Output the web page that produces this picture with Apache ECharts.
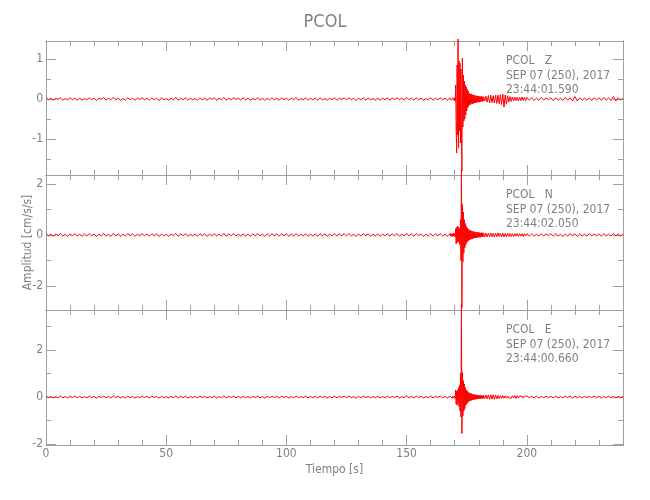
<!DOCTYPE html>
<html><head><meta charset="utf-8">
<script src="https://cdn.jsdelivr.net/npm/echarts@6/dist/echarts.min.js"></script>
<style>html,body{margin:0;padding:0;background:#fff}#c{width:650px;height:500px}</style>
</head><body><div id="c"></div><script>
// ---------- text ----------
const chartTitle = 'PCOL';
const xName = 'Tiempo [s]';
const yName = 'Amplitud [cm/s/s]';
const stationLabels = [
  ['PCOL   Z', 'SEP 07 (250), 2017', '23:44:01.590'],
  ['PCOL   N', 'SEP 07 (250), 2017', '23:44:02.050'],
  ['PCOL   E', 'SEP 07 (250), 2017', '23:44:00.660']
];
// ---------- axes values ----------
const xMin = 0, xMax = 240;
const xMajor = [0, 50, 100, 150, 200];
const xMinor = [10,20,30,40,60,70,80,90,110,120,130,140,160,170,180,190,210,220,230];
const yRange = [[-1.9, 1.45], [-2.94, 2.35], [-2.04, 3.7]];
const yMajor = [[-1, 0, 1], [-2, 0, 2], [-2, 0, 2]];
const yMinor = [[-1.5, -0.5, 0.5], [-1, 1], [-1, 1, 3]];
// sampling segments: [start time, step]
const segPre = [0, 1], segEvt = [168, 0.2], segCoda = [182, 0.5], segPost = [200, 1];

// ---------- Z component ----------
const zPre = [
.03,-.02,.02,-.03,.02,-.01,.03,-.03,.01,-.02,.03,-.02,.02,-.03,
.02,-.03,.01,-.02,.03,-.02,.02,-.04,.02,-.01,.03,-.03,.02,-.02,
.04,-.02,.02,-.03,.01,-.03,.03,-.02,.02,-.03,.02,-.01,.03,-.02,
.02,-.03,.03,-.02,.02,-.04,.03,-.02,.01,-.03,.02,-.02,.04,-.03,
.02,-.02,.03,-.03,.02,-.02,.01,-.03,.03,-.02,.02,-.03,.02,-.01,
.03,-.03,.02,-.02,.04,-.03,.02,-.02,.03,-.01,.02,-.03,.03,-.02,
.02,-.03,.01,-.02,.03,-.03,.02,-.04,.02,-.02,.03,-.02,.02,-.03,
.03,-.02,.02,-.03,.02,-.02,.04,-.03,.01,-.02,.03,-.03,.02,-.02,
.02,-.03,.03,-.02,.01,-.03,.02,-.02,.03,-.03,.02,-.01,.03,-.02,
.03,-.02,.02,-.04,.02,-.02,.03,-.03,.02,-.02,.01,-.03,.02,-.03,
.02,-.02,.03,-.03,.02,-.01,.03,-.02,.02,-.03,.04,-.02,.02,-.03,
.03,-.02,.02,-.03,.01,-.02,.03,-.03,.02,-.02,.03,-.02,.02,-.03];
const zEvt = [
.03,-.02,.04,-.03,.02,-.04,.03,-.02,.05,-.04,.03,-.05,
.35,-.7,-1.35,.85,-.9,1.5,-1.23,.95,-.8,.9,-1.1,.75,-.9,-1.8,1.02,-.7,.6,-.55,.45,-.5,.35,-.4,.3,-.3,.25,-.22,.2,-.18,
.15,-.14,.12,-.15,.13,-.11,.12,-.12,.1,-.11,.09,-.1,.1,-.09,.08,-.09,.07,-.08,.08,-.07,.07,-.08,.06,-.07,.06,-.06,.07,-.06,.05,-.06];
const zCoda = [.06,-.05,.07,-.08,.09,-.1,.1,-.09,.08,-.1,.09,-.11,.1,-.12,.11,-.14,.12,-.2,.1,-.13,.08,-.08,.06,-.06,.05,-.05,.05,-.04,.04,-.05,.04,-.04,.05,-.04,.04,-.04];
const zPost = [.04,-.03,.03,-.04,.02,-.03,.04,-.03,.03,-.02,.03,-.04,.03,-.03,.02,-.03,.04,-.03,.03,-.05,.06,-.05,.03,-.03,.02,-.03,.03,-.04,.03,-.02,.03,-.03,.04,-.03,.03,-.04,.06,-.05,.03,-.03,.02];

// ---------- N component ----------
const nPre = [
.05,-.04,.03,-.05,.04,-.03,.05,-.04,.02,-.05,.04,-.03,.05,-.04,
.03,-.05,.04,-.04,.05,-.03,.04,-.06,.03,-.04,.05,-.04,.03,-.05,
.06,-.04,.04,-.05,.03,-.04,.05,-.03,.04,-.05,.03,-.04,.05,-.03,
.04,-.05,.05,-.03,.04,-.06,.04,-.04,.03,-.05,.04,-.03,.06,-.05,
.04,-.03,.05,-.05,.03,-.04,.04,-.05,.05,-.03,.04,-.05,.03,-.04,
.05,-.04,.03,-.04,.06,-.05,.04,-.03,.05,-.04,.03,-.05,.04,-.04,
.03,-.05,.04,-.03,.05,-.04,.03,-.06,.04,-.04,.05,-.03,.04,-.05,
.05,-.03,.04,-.05,.03,-.04,.06,-.04,.03,-.04,.05,-.05,.03,-.04,
.04,-.05,.05,-.03,.04,-.05,.03,-.04,.05,-.04,.04,-.03,.05,-.04,
.05,-.04,.03,-.06,.04,-.04,.05,-.03,.04,-.05,.03,-.04,.04,-.05,
.03,-.04,.05,-.04,.04,-.03,.05,-.05,.03,-.04,.06,-.04,.04,-.05,
.05,-.03,.04,-.05,.03,-.04,.05,-.04,.04,-.03,.05,-.04,.03,-.05];
const nEvt = [
.05,-.04,.06,-.05,.04,-.06,.05,-.04,.07,-.06,.05,-.07,
.25,-.35,.3,-.3,.35,-.25,.3,-.3,.25,-.4,.6,-1.0,2.6,-2.85,1.2,-1.05,.9,-.7,.6,-.5,.45,-.4,.35,-.3,.28,-.25,.24,-.22,
.2,-.19,.18,-.17,.17,-.16,.15,-.15,.14,-.13,.13,-.12,.12,-.12,.11,-.1,.11,-.1,.1,-.09,.1,-.09,.09,-.09,.08,-.08,.09,-.08,.08,-.07];
const nCoda = [.08,-.07,.07,-.08,.07,-.07,.08,-.07,.06,-.08,.07,-.07,.08,-.06,.07,-.08,.07,-.07,.06,-.07,.07,-.06,.06,-.06,.05,-.06,.05,-.05,.06,-.05,.05,-.05,.05,-.06,.05,-.04];
const nPost = [.05,-.04,.04,-.05,.03,-.04,.05,-.04,.04,-.03,.05,-.05,.04,-.04,.03,-.05,.04,-.04,.05,-.03,.04,-.05,.04,-.04,.03,-.04,.05,-.04,.04,-.03,.04,-.05,.05,-.04,.03,-.04,.05,-.04,.04,-.05,.03];

// ---------- E component ----------
const ePre = [
.04,-.03,.03,-.04,.02,-.03,.04,-.03,.02,-.04,.03,-.02,.04,-.03,
.03,-.04,.02,-.03,.04,-.03,.03,-.05,.03,-.02,.04,-.03,.03,-.04,
.05,-.03,.03,-.04,.02,-.04,.04,-.03,.03,-.04,.02,-.03,.04,-.02,
.03,-.04,.04,-.02,.03,-.05,.03,-.03,.02,-.04,.03,-.03,.05,-.04,
.03,-.03,.04,-.04,.02,-.03,.03,-.04,.04,-.02,.03,-.04,.02,-.03,
.04,-.04,.02,-.03,.05,-.04,.03,-.02,.04,-.03,.03,-.04,.03,-.03,
.02,-.04,.03,-.02,.04,-.03,.02,-.05,.03,-.03,.04,-.02,.03,-.04,
.04,-.02,.03,-.04,.02,-.03,.05,-.03,.02,-.03,.04,-.04,.02,-.03,
.03,-.04,.04,-.02,.03,-.04,.02,-.03,.04,-.03,.03,-.02,.04,-.03,
.04,-.03,.02,-.05,.03,-.03,.04,-.02,.03,-.04,.02,-.03,.03,-.04,
.02,-.03,.04,-.03,.03,-.02,.04,-.04,.02,-.03,.05,-.03,.03,-.04,
.04,-.02,.03,-.04,.02,-.03,.04,-.03,.03,-.02,.04,-.03,.02,-.04];
const eEvt = [
.04,-.03,.05,-.04,.03,-.05,.04,-.03,.06,-.05,.04,-.06,
.3,-.3,.25,-.35,.3,-.25,.4,-.4,.5,-.6,1.0,-.85,3.95,-1.55,1.05,-.8,.7,-.6,.55,-.5,.4,-.35,.3,-.3,.26,-.24,.22,-.2,
.18,-.17,.16,-.15,.15,-.14,.13,-.13,.12,-.11,.11,-.1,.1,-.1,.09,-.09,.09,-.08,.08,-.08,.07,-.08,.07,-.07,.07,-.06,.06,-.07,.06,-.06];
const eCoda = [.07,-.06,.08,-.08,.09,-.1,.1,-.09,.1,-.1,.09,-.08,.07,-.07,.06,-.06,.06,-.05,.05,-.05,.05,-.04,.04,-.05,.05,-.04,.06,-.06,.06,-.05,.04,-.04,.04,-.05,.04,-.04];
const ePost = [.04,-.03,.03,-.04,.05,-.05,.03,-.03,.04,-.03,.03,-.04,.03,-.03,.02,-.03,.04,-.03,.05,-.05,.04,-.03,.03,-.04,.03,-.02,.03,-.03,.04,-.03,.03,-.04,.03,-.03,.04,-.03,.03,-.04,.03,-.03,.03];

const traces = [
  [zPre, zEvt, zCoda, zPost],
  [nPre, nEvt, nCoda, nPost],
  [ePre, eEvt, eCoda, ePost]
];

// ---------- build ----------
function seg(spec, vals) { return vals.map((v, i) => [spec[0] + i * spec[1], v]); }
function series(tr) {
  return seg(segPre, tr[0]).concat(seg(segEvt, tr[1]), seg(segCoda, tr[2]), seg(segPost, tr[3]));
}

const FONT = "'Liberation Sans Narrow','DejaVu Sans Condensed','Liberation Sans',sans-serif";
const AX = '#a0a0a0', TXT = '#808080';
const grids = [
  { left: 46, right: 27, top: 41, height: 134 },
  { left: 46, right: 27, top: 175, height: 135 },
  { left: 46, right: 27, top: 310, height: 135 }
];

const xAxes = [], yAxes = [], ser = [], graphics = [];
function baseAxis(extra) {
  return Object.assign({
    type: 'value', splitLine: { show: false }, minorTick: { show: false },
    axisLine: { show: true, onZero: false, lineStyle: { color: AX, width: 1 } }
  }, extra);
}
grids.forEach((g, i) => {
  const isLast = i === grids.length - 1;
  [['bottom', xMajor, 10], ['bottom', xMinor, 5], ['top', xMajor, 10], ['top', xMinor, 5]].forEach((d, k) => {
    const ax = baseAxis({
      gridIndex: i, position: d[0], min: xMin, max: xMax,
      axisTick: { show: true, inside: true, length: d[2], customValues: d[1], lineStyle: { color: AX } },
      axisLabel: { show: false }
    });
    if (isLast && k === 0) {
      ax.axisLabel = { show: true, customValues: xMajor, color: TXT, fontFamily: FONT, fontSize: 12, margin: 3 };
      ax.name = xName; ax.nameLocation = 'middle'; ax.nameGap = 19; ax.nameMoveOverlap = false;
      ax.nameTextStyle = { color: TXT, fontFamily: FONT, fontSize: 12 };
    }
    xAxes.push(ax);
  });
  const yFirst = yAxes.length;
  [['left', yMajor[i], 10], ['left', yMinor[i], 5], ['right', yMajor[i], 10], ['right', yMinor[i], 5]].forEach((d, k) => {
    const ax = baseAxis({
      gridIndex: i, position: d[0], min: yRange[i][0], max: yRange[i][1],
      axisTick: { show: true, inside: true, length: d[2], customValues: d[1], lineStyle: { color: AX } },
      axisLabel: { show: false }
    });
    if (k === 0) {
      ax.axisLabel = { show: true, customValues: yMajor[i], color: TXT, fontFamily: FONT, fontSize: 12, margin: 3 };
      if (i === 1) {
        ax.name = yName; ax.nameLocation = 'middle'; ax.nameGap = 12; ax.nameMoveOverlap = false;
        ax.nameTextStyle = { color: TXT, fontFamily: FONT, fontSize: 12 };
      }
    }
    yAxes.push(ax);
  });
  ser.push({
    type: 'line', xAxisIndex: i * 4, yAxisIndex: yFirst, data: series(traces[i]),
    showSymbol: false, symbol: 'none', clip: false, animation: false,
    lineStyle: { color: '#ff0000', width: 1 }
  });
  const lineY = g.top + 20;
  stationLabels[i].forEach((s, j) => {
    graphics.push({
      type: 'text', x: 506, y: lineY + j * 14.5,
      style: { text: s, fill: TXT, font: '12px ' + FONT, verticalAlign: 'middle' }
    });
  });
});

const chart = echarts.init(document.getElementById('c'), null, { renderer: 'canvas' });
chart.setOption({
  backgroundColor: '#fff',
  animation: false,
  title: { text: chartTitle, left: 'center', top: 8, textStyle: { color: TXT, fontFamily: FONT, fontSize: 18, fontWeight: 'normal' } },
  grid: grids,
  xAxis: xAxes,
  yAxis: yAxes,
  series: ser,
  graphic: graphics
});
</script></body></html>
